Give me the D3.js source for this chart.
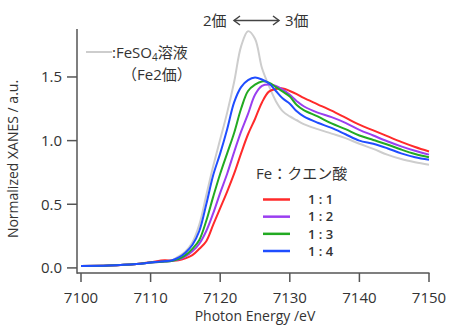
<!DOCTYPE html>
<html>
<head>
<meta charset="utf-8">
<script src="https://cdn.jsdelivr.net/npm/d3@7"></script>
<style>
  body { margin: 0; background: #fff; }
  svg text { font-family: "Open Sans", "Noto Sans CJK JP", sans-serif; fill: #333; }
</style>
</head>
<body>
<svg width="449" height="329"></svg>
<script>
// photon energy grid (eV)
const energy = [7100, 7104, 7108, 7110, 7112, 7113, 7114, 7115, 7116, 7117, 7118, 7119, 7120,
  7121, 7122, 7123, 7124, 7125, 7126, 7127, 7128, 7129, 7130, 7131, 7132, 7134, 7136, 7138,
  7140, 7142, 7144, 7146, 7148, 7150]

// normalized XANES
const feso4 = [0.015, 0.018, 0.03, 0.042, 0.05, 0.058, 0.09, 0.13, 0.20, 0.34, 0.57, 0.80, 1.01,
  1.22, 1.46, 1.74, 1.86, 1.80, 1.57, 1.43, 1.31, 1.23, 1.19, 1.16, 1.13, 1.09, 1.055, 1.02,
  0.975, 0.935, 0.89, 0.855, 0.83, 0.81]
const r11 = [0.015, 0.018, 0.03, 0.045, 0.06, 0.058, 0.06, 0.075, 0.10, 0.15, 0.21, 0.34, 0.47,
  0.60, 0.74, 0.90, 1.05, 1.17, 1.30, 1.385, 1.405, 1.41, 1.39, 1.365, 1.335, 1.285, 1.235, 1.18,
  1.125, 1.08, 1.035, 0.99, 0.95, 0.915]
const r12 = [0.015, 0.018, 0.03, 0.042, 0.05, 0.055, 0.065, 0.09, 0.13, 0.19, 0.29, 0.43, 0.59,
  0.74, 0.91, 1.07, 1.21, 1.36, 1.43, 1.44, 1.43, 1.40, 1.36, 1.31, 1.27, 1.22, 1.185, 1.14,
  1.085, 1.04, 0.995, 0.955, 0.92, 0.89]
const r13 = [0.015, 0.018, 0.03, 0.042, 0.05, 0.055, 0.07, 0.10, 0.15, 0.22, 0.37, 0.56, 0.74,
  0.90, 1.06, 1.25, 1.39, 1.44, 1.465, 1.455, 1.42, 1.385, 1.346, 1.28, 1.24, 1.19, 1.135, 1.09,
  1.04, 1.005, 0.97, 0.93, 0.895, 0.87]
const r14 = [0.015, 0.018, 0.03, 0.042, 0.052, 0.058, 0.08, 0.12, 0.18, 0.29, 0.50, 0.73, 0.90,
  1.09, 1.30, 1.42, 1.475, 1.495, 1.48, 1.45, 1.39, 1.33, 1.29, 1.23, 1.19, 1.14, 1.10, 1.05,
  1.00, 0.975, 0.94, 0.90, 0.87, 0.85]

const ratioLabels = ["1 : 1", "1 : 2", "1 : 3", "1 : 4"]
const ratioColors = ["#ff2a2a", "#9a3ef0", "#22aa22", "#1f4dff"]
const xTicks = [7100, 7110, 7120, 7130, 7140, 7150]
const yTicks = [0, 0.5, 1.0, 1.5]

const svg = d3.select("svg")

const x = d3.scaleLinear().domain([7100, 7150]).range([81, 429])
const y = d3.scaleLinear().domain([-0.04, 1.88]).range([273, 28.6])

const line = d3.line()
  .x((d, i) => x(energy[i]))
  .y(d => y(d))
  .curve(d3.curveCatmullRom.alpha(0.5))

// curves
svg.append("path").datum(feso4)
  .attr("d", line).attr("fill", "none")
  .attr("stroke", "#cdcdcd").attr("stroke-width", 2)

const ratios = [r11, r12, r13, r14]
ratios.forEach((vals, i) => {
  svg.append("path").datum(vals)
    .attr("d", line).attr("fill", "none")
    .attr("stroke", ratioColors[i]).attr("stroke-width", 2)
})

// axes
const axisColor = "#555"
const xAxis = svg.append("g").attr("transform", "translate(0,273)")
xAxis.append("line").attr("x1", 77).attr("x2", 429.5)
  .attr("stroke", axisColor).attr("stroke-width", 1.5)
xAxis.selectAll(".xt").data(xTicks).join("line")
  .attr("x1", d => x(d)).attr("x2", d => x(d)).attr("y1", 0).attr("y2", 9)
  .attr("stroke", axisColor).attr("stroke-width", 1.5)
xAxis.selectAll(".xl").data(xTicks).join("text")
  .attr("x", d => x(d)).attr("y", 30)
  .attr("text-anchor", "middle").attr("font-size", 15)
  .text(d => d)

const yAxis = svg.append("g").attr("transform", "translate(77,0)")
yAxis.append("line").attr("y1", 29).attr("y2", 273.7)
  .attr("stroke", axisColor).attr("stroke-width", 1.5)
yAxis.selectAll(".yt").data(yTicks).join("line")
  .attr("x1", -10).attr("x2", 0).attr("y1", d => y(d)).attr("y2", d => y(d))
  .attr("stroke", axisColor).attr("stroke-width", 1.5)
yAxis.selectAll(".yl").data(yTicks).join("text")
  .attr("x", -15).attr("y", d => y(d)).attr("dy", "0.36em")
  .attr("text-anchor", "end").attr("font-size", 15)
  .text(d => d3.format(".1f")(d))

svg.append("text").attr("x", 255).attr("y", 321)
  .attr("text-anchor", "middle").attr("font-size", 14)
  .text("Photon Energy /eV")
svg.append("text")
  .attr("transform", "translate(18,159) rotate(-90)")
  .attr("text-anchor", "middle").attr("font-size", 14)
  .text("Normalized XANES / a.u.")

// valence annotation
svg.append("text").attr("x", 203).attr("y", 26).attr("font-size", 15).text("2価")
svg.append("text").attr("x", 285).attr("y", 26).attr("font-size", 15).text("3価")
const arr = svg.append("g").attr("stroke", "#444").attr("stroke-width", 1.5).attr("fill", "none")
arr.append("line").attr("x1", 234).attr("x2", 279).attr("y1", 20.5).attr("y2", 20.5)
arr.append("path").attr("d", "M240,16 L234,20.5 L240,25")
arr.append("path").attr("d", "M273,16 L279,20.5 L273,25")

// FeSO4 legend
svg.append("line").attr("x1", 86).attr("x2", 112).attr("y1", 52).attr("y2", 52)
  .attr("stroke", "#cdcdcd").attr("stroke-width", 2)
const fe = svg.append("text").attr("x", 112).attr("y", 58).attr("font-size", 15)
fe.append("tspan").text(":FeSO")
fe.append("tspan").attr("font-size", 10).attr("dy", 3).text("4")
fe.append("tspan").attr("dy", -3).text("溶液")
svg.append("text").attr("x", 122).attr("y", 80).attr("font-size", 15).text("（Fe2価）")

// ratio legend
svg.append("text").attr("x", 256).attr("y", 179).attr("font-size", 15).text("Fe：クエン酸")
const rowY = d3.scalePoint().domain(ratioLabels).range([199.5, 251])
const leg = svg.selectAll(".leg").data(ratioLabels).join("g")
  .attr("transform", d => `translate(0,${rowY(d)})`)
leg.append("line").attr("x1", 263).attr("x2", 290)
  .attr("stroke", (d, i) => ratioColors[i]).attr("stroke-width", 2.5)
leg.append("text").attr("x", 308).attr("dy", "0.36em").attr("font-size", 13)
  .attr("font-weight", 600)
  .text(d => d)
</script>
</body>
</html>
